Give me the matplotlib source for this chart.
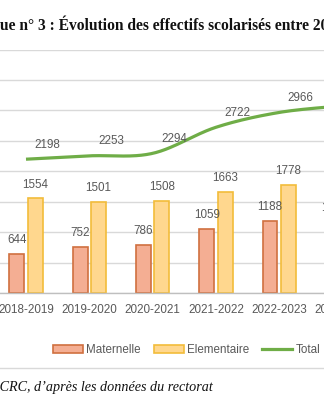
import numpy as np
import matplotlib
matplotlib.use("Agg")
import matplotlib.pyplot as plt
from matplotlib.patches import Patch
from matplotlib.lines import Line2D

years = ["2018-2019", "2019-2020", "2020-2021", "2021-2022", "2022-2023", "2023-2024"]
maternelle = [644, 752, 786, 1059, 1188, 1175]
elementaire = [1554, 1501, 1508, 1663, 1778, 1900]
total = [2198, 2253, 2294, 2722, 2966, 3075]

title = "Graphique n° 3 : Évolution des effectifs scolarisés entre 2018 et 2024"
source = "Source : CRC, d’après les données du rectorat"

c_mat, c_mat_edge = "#F4AE93", "#D0703F"
c_ele, c_ele_edge = "#FFD78E", "#F2BC3A"
c_tot = "#6FAD47"
grey = "#595959"


def smooth(xs, ys, n=40):
    # excel-like smoothed line (catmull-rom as bezier)
    p = np.column_stack([xs, ys]).astype(float)
    p = np.vstack([p[0], p, p[-1]])
    out = []
    t = np.linspace(0, 1, n)[:, None]
    for i in range(1, len(p) - 2):
        p0, p1, p2, p3 = p[i - 1], p[i], p[i + 1], p[i + 2]
        c1 = p1 + (p2 - p0) / 6
        c2 = p2 - (p3 - p1) / 6
        seg = ((1 - t) ** 3) * p1 + 3 * ((1 - t) ** 2) * t * c1 + 3 * (1 - t) * t ** 2 * c2 + t ** 3 * p2
        out.append(seg)
    out = np.vstack(out)
    return out[:, 0], out[:, 1]


plt.rcParams["font.family"] = ["Liberation Sans", "DejaVu Sans"]

fig = plt.figure(figsize=(3.24, 4.0), dpi=100)
# the original is a crop of a wider chart: the axes run past the right edge
ax_w = 400
ax = fig.add_axes([0, 107 / 400, ax_w / 324, 243.5 / 400])

x = np.arange(len(years))
w = 0.235
off = 0.145
ax.bar(x - off, maternelle, w, color=c_mat, edgecolor=c_mat_edge, linewidth=1.2, zorder=2)
ax.bar(x + off, elementaire, w, color=c_ele, edgecolor=c_ele_edge, linewidth=1.2, zorder=2)
sx, sy = smooth(x, total)
ax.plot(sx, sy, color=c_tot, lw=2.3, solid_capstyle="butt", zorder=3)

for i in range(len(years)):
    ax.annotate(str(maternelle[i]), (x[i] - off, maternelle[i]), xytext=(0, 10),
                textcoords="offset points", ha="center", va="center", fontsize=8.4, color=grey)
    ax.annotate(str(elementaire[i]), (x[i] + off, elementaire[i]), xytext=(0, 10),
                textcoords="offset points", ha="center", va="center", fontsize=8.4, color=grey)
    ax.annotate(str(total[i]), (x[i], total[i]), xytext=(15.5, 10.5),
                textcoords="offset points", ha="center", va="center", fontsize=8.4, color=grey)

ax.set_yticks(range(0, 4001, 500))
ax.set_xticks(x)
ax.set_xticklabels(years)
ax.set_xlim(-26 / 63.3, (ax_w - 26) / 63.3)
ax.set_ylim(0, 4000)
ax.tick_params(axis="x", length=0, pad=8, labelsize=8.4, labelcolor=grey)
ax.tick_params(axis="y", left=False, labelleft=False)
ax.yaxis.grid(True, color="#D9D9D9", lw=1)
ax.set_axisbelow(True)
for s in ["top", "left", "right"]:
    ax.spines[s].set_visible(False)
ax.spines["bottom"].set_color("#BFBFBF")
ax.spines["bottom"].set_linewidth(1)

handles = [Patch(facecolor=c_mat, edgecolor=c_mat_edge, lw=1.2),
           Patch(facecolor=c_ele, edgecolor=c_ele_edge, lw=1.2),
           Line2D([], [], color=c_tot, lw=2.3)]
leg = fig.legend(handles, ["Maternelle", "Elementaire", "Total"], loc="center left",
                 bbox_to_anchor=(53 / 324, 1 - 350 / 400), ncol=3, frameon=False,
                 fontsize=8.4, handlelength=2.6, handleheight=0.7, handletextpad=0.25,
                 columnspacing=1.1, borderpad=0, borderaxespad=0)
for t in leg.get_texts():
    t.set_color(grey)

fig.add_artist(Line2D([0, 1], [1 - 368 / 400, 1 - 368 / 400], color="#D9D9D9", lw=1))

# title and source are cut at the left like in the original crop
r = fig.canvas.get_renderer()
tt = fig.text(0, 1 - 25 / 400, title, family="Liberation Serif", weight="bold",
              fontsize=11.2, va="center", ha="left", color="#111111")
pre = fig.text(0, 0, "Graphiq", family="Liberation Serif", weight="bold", fontsize=11.2)
pw = pre.get_window_extent(r).width
pre.remove()
tt.set_x(-pw / 324)

st = fig.text(0, 1 - 388 / 400, source, family="Liberation Serif", style="italic",
              fontsize=10.2, va="center", ha="left", color="#111111")
pre = fig.text(0, 0, "Source : ", family="Liberation Serif", style="italic", fontsize=10.2)
pw = pre.get_window_extent(r).width
pre.remove()
st.set_x(-pw / 324)

fig.savefig("out.png", dpi=100)
